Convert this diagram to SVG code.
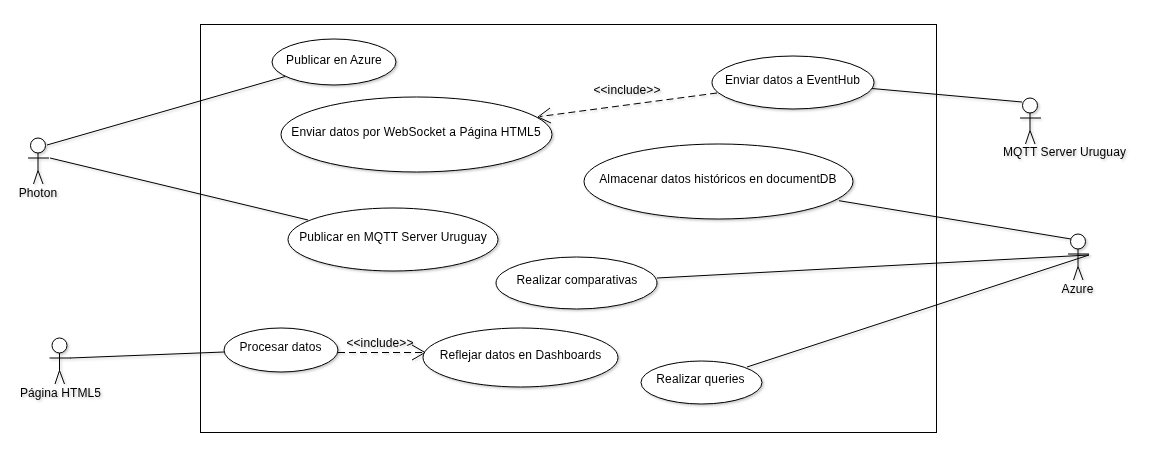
<svg xmlns="http://www.w3.org/2000/svg" width="1169" height="456" viewBox="0 0 1169 456">
<style>
text{font-family:"Liberation Sans",Arial,sans-serif;font-size:12px;letter-spacing:.1px;fill:#000;text-anchor:middle}
.s{fill:#fff;stroke:#000;stroke-width:1}
.l{fill:none;stroke:#000;stroke-width:1}
.d{fill:none;stroke:#000;stroke-width:1;stroke-dasharray:7 4}
</style>
<defs>
<filter id="sh" x="-5%" y="-5%" width="115%" height="115%"><feDropShadow dx="1.5" dy="1.5" stdDeviation="0.8" flood-color="#000" flood-opacity="0.22"/></filter>
<g id="actor">
<circle class="s" cx="0" cy="0" r="7.500"/>
<path class="l" d="M0 7.500V25M-10 12.500H11M0 25L-4.500 38.500M0 25L5 38.500"/>
</g>
</defs>
<rect width="1169" height="456" fill="#fff"/>
<rect id="boundary" x="200.500" y="24.500" width="736" height="408" fill="#fff" stroke="#000" stroke-width="1"/>
<g id="connectors" filter="url(#sh)">
<path class="l" d="M47 145L285 76.500"/>
<path class="l" d="M50 158L308 220"/>
<path class="l" d="M70 358L224 352"/>
<path class="l" d="M872 88.500L1022 102"/>
<path class="l" d="M839 200.700L1071 239"/>
<path class="l" d="M657 278L1089 255"/>
<path class="l" d="M747 367L1089 255"/>
<path class="d" d="M717 93L540 116.500"/>
<path class="l" d="M550 108L538 117L551 123"/>
<path class="d" d="M338 352.500H424"/>
<path class="l" d="M412 345L425 352.500L412 360"/>
<text x="627" y="94">&lt;&lt;include&gt;&gt;</text>
<text x="380" y="347">&lt;&lt;include&gt;&gt;</text>
</g>
<g id="uc1" filter="url(#sh)"><ellipse class="s" cx="334" cy="62" rx="62" ry="23"/><text x="334" y="64">Publicar en Azure</text></g>
<g id="uc2" filter="url(#sh)"><ellipse class="s" cx="416.500" cy="134.500" rx="135.500" ry="37.500"/><text x="416" y="136">Enviar datos por WebSocket a Página HTML5</text></g>
<g id="uc3" filter="url(#sh)"><ellipse class="s" cx="793" cy="82.500" rx="81" ry="26.500"/><text x="792.500" y="84">Enviar datos a EventHub</text></g>
<g id="uc4" filter="url(#sh)"><ellipse class="s" cx="718.500" cy="181.500" rx="134.500" ry="37.500"/><text x="718" y="183">Almacenar datos históricos en documentDB</text></g>
<g id="uc5" filter="url(#sh)"><ellipse class="s" cx="393" cy="239.500" rx="105" ry="31.500"/><text x="393" y="241">Publicar en MQTT Server Uruguay</text></g>
<g id="uc6" filter="url(#sh)"><ellipse class="s" cx="576.500" cy="283" rx="80.500" ry="26"/><text x="577" y="284">Realizar comparativas</text></g>
<g id="uc7" filter="url(#sh)"><ellipse class="s" cx="281" cy="350" rx="57" ry="22"/><text x="280.500" y="351">Procesar datos</text></g>
<g id="uc8" filter="url(#sh)"><ellipse class="s" cx="520.500" cy="357.500" rx="97.500" ry="29.500"/><text x="520.500" y="359">Reflejar datos en Dashboards</text></g>
<g id="uc9" filter="url(#sh)"><ellipse class="s" cx="701.500" cy="382.500" rx="60.500" ry="21.500"/><text x="700.500" y="383">Realizar queries</text></g>
<g id="photon" filter="url(#sh)"><use href="#actor" x="38" y="145.500"/><text x="38" y="197">Photon</text></g>
<g id="html5" filter="url(#sh)"><use href="#actor" x="59.500" y="345.500"/><text x="60.500" y="397">Página HTML5</text></g>
<g id="mqtt" filter="url(#sh)"><use href="#actor" x="1030" y="105.500"/><text x="1064.500" y="156">MQTT Server Uruguay</text></g>
<g id="azure" filter="url(#sh)"><use href="#actor" x="1078" y="241.500"/><text x="1077.500" y="293">Azure</text></g>
</svg>
